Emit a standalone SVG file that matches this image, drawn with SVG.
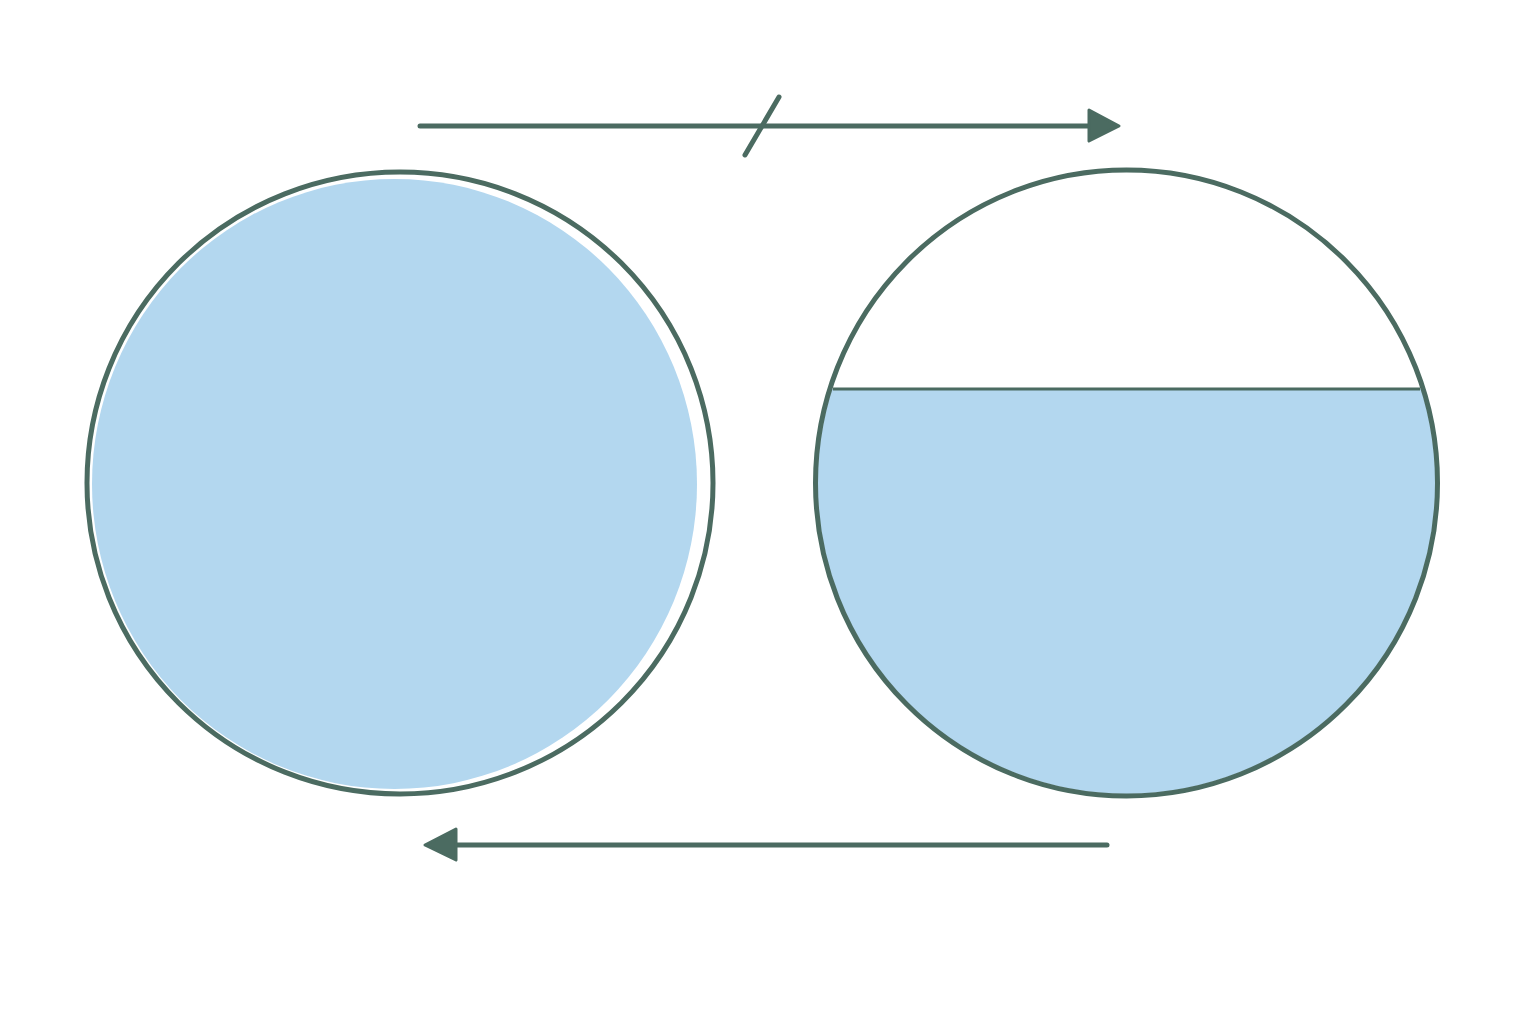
<svg xmlns="http://www.w3.org/2000/svg" width="1536" height="1024" viewBox="0 0 1536 1024">
<style>
.ring{fill:none;stroke:#4b6b61;stroke-width:5}
.water{fill:#b3d7ef}
.line{stroke:#4b6b61;stroke-width:5;stroke-linecap:round;fill:none}
.head{fill:#4b6b61;stroke:#4b6b61;stroke-width:3;stroke-linejoin:round}
</style>
<defs>
<clipPath id="rclip"><ellipse cx="1126.5" cy="483" rx="309" ry="311"/></clipPath>
</defs>
<rect width="1536" height="1024" fill="#ffffff"/>
<g id="full-circle">
<ellipse class="water" cx="394.5" cy="484" rx="302.5" ry="305"/>
<ellipse class="ring" cx="400" cy="483" rx="313" ry="311"/>
</g>
<g id="half-circle">
<rect class="water" x="800" y="389" width="660" height="420" clip-path="url(#rclip)"/>
<line x1="833" y1="389" x2="1420" y2="389" stroke="#4b6b61" stroke-width="3"/>
<ellipse class="ring" cx="1126.5" cy="483" rx="311" ry="313"/>
</g>
<g id="connectors">
<line class="line" x1="420" y1="126" x2="1092" y2="126"/>
<polygon class="head" points="1089,110 1119,126 1089,141"/>
<line class="line" x1="745" y1="155" x2="779" y2="97"/>
<line class="line" x1="1107" y1="845" x2="452" y2="845"/>
<polygon class="head" points="456,829 425,845 456,860"/>
</g>
</svg>
